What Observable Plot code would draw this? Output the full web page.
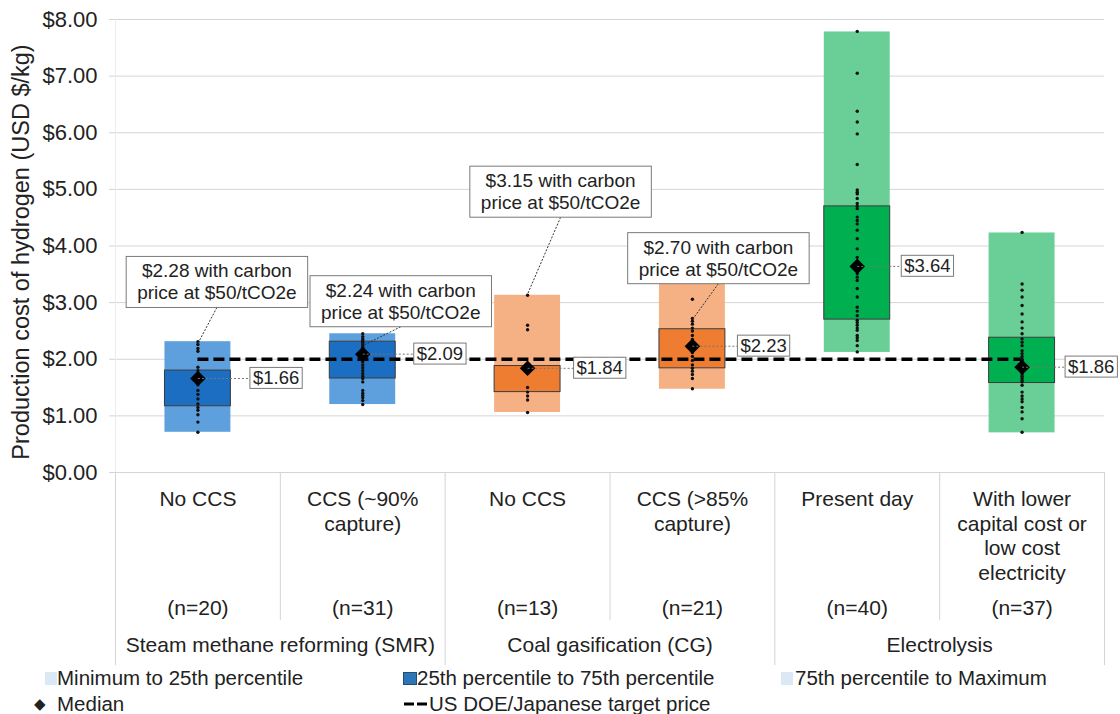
<!DOCTYPE html>
<html>
<head>
<meta charset="utf-8">
<script src="https://cdn.jsdelivr.net/npm/d3@7"></script>
<script src="https://cdn.jsdelivr.net/npm/@observablehq/plot@0.6"></script>
<style>
  html, body { margin: 0; padding: 0; background: #fff; }
  body { width: 1120px; height: 714px; overflow: hidden; font-family: "Liberation Sans", Arial, sans-serif; color: #222; }
  #legend { position: relative; height: 49px; font-size: 20.5px; }
  .li { position: absolute; display: flex; align-items: center; white-space: nowrap; height: 24px; }
  .sw { display: inline-block; height: 13px; }
</style>
</head>
<body>
<div id="chart"></div>
<div id="legend">
  <div class="li" style="left:45px; top:1px;"><span class="sw" style="width:12px;background:#dbe8f5"></span><span>Minimum to 25th percentile</span></div>
  <div class="li" style="left:403px; top:1px;"><span class="sw" style="width:14px;background:#2e75b6;border:1px solid #1f4e79;box-sizing:border-box"></span><span>25th percentile to 75th percentile</span></div>
  <div class="li" style="left:781px; top:1px;"><span class="sw" style="width:12px;background:#dbe8f5;margin-right:2px"></span><span>75th percentile to Maximum</span></div>
  <div class="li" style="left:34px; top:27px;"><span style="font-size:15px;width:23px">&#9670;</span><span>Median</span></div>
  <div class="li" style="left:403px; top:27px;"><svg width="26" height="10"><line x1="1" y1="5" x2="26" y2="5" stroke="#000" stroke-width="3" stroke-dasharray="10,3"/></svg><span>US DOE/Japanese target price</span></div>
</div>
<script>
// ---------- data ----------
const categories = ["No CCS", "CCS (~90%\ncapture)", "No CCS", "CCS (>85%\ncapture)", "Present day", "With lower\ncapital cost or\nlow cost\nelectricity"];
const sampleSizes = [20, 31, 13, 21, 40, 37];
const groups = ["Steam methane reforming (SMR)", "Coal gasification (CG)", "Electrolysis"];
const groupOfCategory = [0, 0, 1, 1, 2, 2];
const minimum = [0.71, 1.20, 1.06, 1.47, 2.12, 0.70];
const quartile1 = [1.17, 1.66, 1.42, 1.84, 2.70, 1.58];
const median = [1.66, 2.09, 1.84, 2.23, 3.64, 1.86];
const quartile3 = [1.80, 2.31, 1.88, 2.53, 4.70, 2.38];
const maximum = [2.31, 2.45, 3.13, 3.40, 7.78, 4.23];
const carbonPrice = [2.28, 2.24, 3.15, 2.70, null, null];
const targetPrice = 2.00;
const yTicks = [0, 1, 2, 3, 4, 5, 6, 7, 8];
const yTitle = "Production cost of hydrogen (USD $/kg)";
const observations = [
  [2.31, 2.26, 2.19, 2.14, 1.86, 1.80, 1.75, 1.70, 1.66, 1.62, 1.55, 1.45, 1.38, 1.30, 1.21, 1.15, 1.10, 1.02, 0.89, 0.71],
  [2.45, 2.40, 2.36, 2.33, 2.30, 2.27, 2.24, 2.21, 2.18, 2.15, 2.13, 2.11, 2.09, 2.07, 2.04, 2.01, 1.98, 1.95, 1.90, 1.85, 1.80, 1.75, 1.70, 1.66, 1.60, 1.45, 1.40, 1.36, 1.32, 1.27, 1.20],
  [3.13, 2.60, 2.52, 1.90, 1.86, 1.84, 1.82, 1.78, 1.50, 1.42, 1.35, 1.28, 1.06],
  [3.38, 3.06, 2.72, 2.67, 2.62, 2.55, 2.50, 2.42, 2.35, 2.28, 2.23, 2.18, 2.12, 2.05, 1.98, 1.90, 1.84, 1.79, 1.73, 1.66, 1.48],
  [7.79, 7.05, 6.38, 6.19, 5.98, 5.44, 4.99, 4.95, 4.92, 4.84, 4.75, 4.70, 4.66, 4.51, 4.45, 4.39, 4.28, 4.13, 3.95, 3.80, 3.70, 3.63, 3.51, 3.45, 3.39, 3.25, 3.10, 2.92, 2.85, 2.77, 2.69, 2.65, 2.60, 2.55, 2.51, 2.42, 2.38, 2.33, 2.24, 2.13],
  [4.24, 3.33, 3.22, 3.10, 2.95, 2.80, 2.66, 2.55, 2.45, 2.36, 2.30, 2.24, 2.15, 2.10, 2.05, 2.00, 1.98, 1.95, 1.90, 1.88, 1.86, 1.84, 1.80, 1.74, 1.70, 1.66, 1.62, 1.60, 1.54, 1.42, 1.35, 1.30, 1.25, 1.15, 1.07, 0.95, 0.71]
];

// ---------- styles ----------
const lightColors = ["#5da0dd", "#f5b183", "#69cf97"];
const darkColors = ["#1b6ec2", "#ee7d31", "#00b050"];
const BOX_HALF = 0.2;
const annotationOffsets = [[19, -62], [38, -45], [33, -103], [26, -62]];
const medianLabelGap = [55, 54, 49, 48, 47, 46];
const FONT = "'Liberation Sans', Arial, sans-serif";

// ---------- tables ----------
const stats = categories.map((c, i) => ({
  i, label: c, n: sampleSizes[i], group: groupOfCategory[i],
  min: minimum[i], q1: quartile1[i], median: median[i], q3: quartile3[i], max: maximum[i],
  light: lightColors[groupOfCategory[i]], dark: darkColors[groupOfCategory[i]]
}));
const points = observations.flatMap((vals, i) => vals.map(v => ({i, v})));
const groupRows = groups.map((g, k) => ({g, center: groupOfCategory.indexOf(k) + groupOfCategory.filter(x => x === k).length / 2}));
const minorSeps = d3.range(1, categories.length).filter(k => groupOfCategory[k] === groupOfCategory[k - 1]);
const majorSeps = d3.range(0, categories.length + 1).filter(k => !minorSeps.includes(k));

const W = 1120, H = 665, mT = 19, mB = 193, mL = 115, mR = 16;
const frameH = H - mT - mB;

const cx = d => d.i + 0.5;

const annotationMarks = carbonPrice.map((p, i) => p == null ? null :
  Plot.text([stats[i]], {
    x: cx, y: () => p,
    text: () => `$${p.toFixed(2)} with carbon\nprice at $50/tCO2e`,
    dx: annotationOffsets[i][0], dy: annotationOffsets[i][1],
    fontSize: 19, lineHeight: 1.16, textAnchor: "middle", lineAnchor: "middle",
    fill: "#222", ariaDescription: `annotation-${i}`
  })).filter(Boolean);

const medianLabelMarks = stats.map(s =>
  Plot.text([s], {x: cx, y: "median", text: d => "$" + d.median.toFixed(2), dx: medianLabelGap[s.i], textAnchor: "start", lineAnchor: "middle", fontSize: 18.5, fill: "#222", ariaDescription: `median-label-${s.i}`}));

const chart = Plot.plot({
  width: W, height: H,
  marginTop: mT, marginBottom: mB, marginLeft: mL, marginRight: mR,
  style: {fontFamily: FONT, color: "#222", background: "#fff", overflow: "visible"},
  x: {type: "linear", domain: [0, categories.length], axis: null},
  y: {domain: [0, 8], axis: null},
  color: {type: "identity"},
  marks: [
    Plot.gridY(yTicks, {stroke: "#d4d4d4", strokeOpacity: 1}),
    Plot.ruleX([0], {stroke: "#ececec"}),
    Plot.axisY(yTicks, {tickFormat: d => "$" + d.toFixed(2), tickSize: 6, tickPadding: 12, fontSize: 22, stroke: "#d4d4d4", label: null, fill: "#222"}),
    Plot.text([yTitle], {frameAnchor: "left", rotate: -90, textAnchor: "middle", dx: -94, dy: 6, text: d => d, fontSize: 23.5, fill: "#222"}),
    // separators in the category axis
    Plot.ruleX(minorSeps, {x: d => d, insetTop: frameH, insetBottom: -148, stroke: "#d4d4d4"}),
    Plot.ruleX(majorSeps, {x: d => d, insetTop: frameH, insetBottom: -193, stroke: "#d4d4d4"}),
    // category labels
    Plot.text(stats, {x: cx, frameAnchor: "bottom", text: "label", lineAnchor: "top", dy: 16, fontSize: 21, lineHeight: 1.17, fill: "#222"}),
    Plot.text(stats, {x: cx, frameAnchor: "bottom", text: d => `(n=${d.n})`, lineAnchor: "middle", dy: 136, fontSize: 21, fill: "#222"}),
    Plot.text(groupRows, {x: "center", frameAnchor: "bottom", text: "g", lineAnchor: "middle", dy: 173, fontSize: 21, fill: "#222"}),
    // boxes
    Plot.rect(stats, {x1: d => cx(d) - BOX_HALF, x2: d => cx(d) + BOX_HALF, y1: "min", y2: "q1", fill: "light"}),
    Plot.rect(stats, {x1: d => cx(d) - BOX_HALF, x2: d => cx(d) + BOX_HALF, y1: "q3", y2: "max", fill: "light"}),
    Plot.rect(stats, {x1: d => cx(d) - BOX_HALF, x2: d => cx(d) + BOX_HALF, y1: "q1", y2: "q3", fill: "dark", stroke: "#3a3a3a", strokeWidth: 1}),
    // target price
    Plot.ruleY([targetPrice], {x1: 0.5, x2: categories.length - 0.5, stroke: "#000", strokeWidth: 3.5, strokeDasharray: "11,5"}),
    // observations
    Plot.dot(points, {x: cx, y: "v", r: 1.7, fill: "#111", stroke: null}),
    // median
    Plot.dot(stats, {x: cx, y: "median", symbol: "diamond2", r: 7, fill: "#000"}),
    ...medianLabelMarks,
    ...annotationMarks
  ]
});

document.getElementById("chart").append(chart);

const NS = "http://www.w3.org/2000/svg";
function addBox(t, padX, padY) {
  const b = t.getBBox();
  const r = document.createElementNS(NS, "rect");
  r.setAttribute("transform", t.getAttribute("transform") || "");
  r.setAttribute("x", b.x - padX);
  r.setAttribute("y", b.y - padY);
  r.setAttribute("width", b.width + 2 * padX);
  r.setAttribute("height", b.height + 2 * padY);
  r.setAttribute("fill", "#fff");
  r.setAttribute("stroke", "#7a7a7a");
  r.setAttribute("stroke-width", "1");
  t.parentNode.insertBefore(r, t);
}
function addLine(t, x1, y1, x2, y2, color, dash) {
  const l = document.createElementNS(NS, "line");
  l.setAttribute("transform", t.getAttribute("transform") || "");
  l.setAttribute("x1", x1); l.setAttribute("y1", y1);
  l.setAttribute("x2", x2); l.setAttribute("y2", y2);
  l.setAttribute("stroke", color);
  l.setAttribute("stroke-width", "1");
  l.setAttribute("stroke-dasharray", dash);
  t.parentNode.insertBefore(l, t);
}
stats.forEach(s => {
  chart.querySelectorAll(`g[aria-description="median-label-${s.i}"] text`).forEach(t => {
    const padX = 3, padY = 0;
    const b = t.getBBox();
    addLine(t, -medianLabelGap[s.i], 0, b.x - padX, 0, "#777", "2,2");
    addBox(t, padX, padY);
  });
});
carbonPrice.forEach((p, i) => {
  if (p == null) return;
  const [dx, dy] = annotationOffsets[i];
  chart.querySelectorAll(`g[aria-description="annotation-${i}"] text`).forEach(t => {
    const padX = 11, padY = 4;
    const b = t.getBBox();
    addLine(t, 0, b.y + b.height + padY, -dx, -dy, "#333", "2,1.5");
    addBox(t, padX, padY);
  });
});
</script>
</body>
</html>
